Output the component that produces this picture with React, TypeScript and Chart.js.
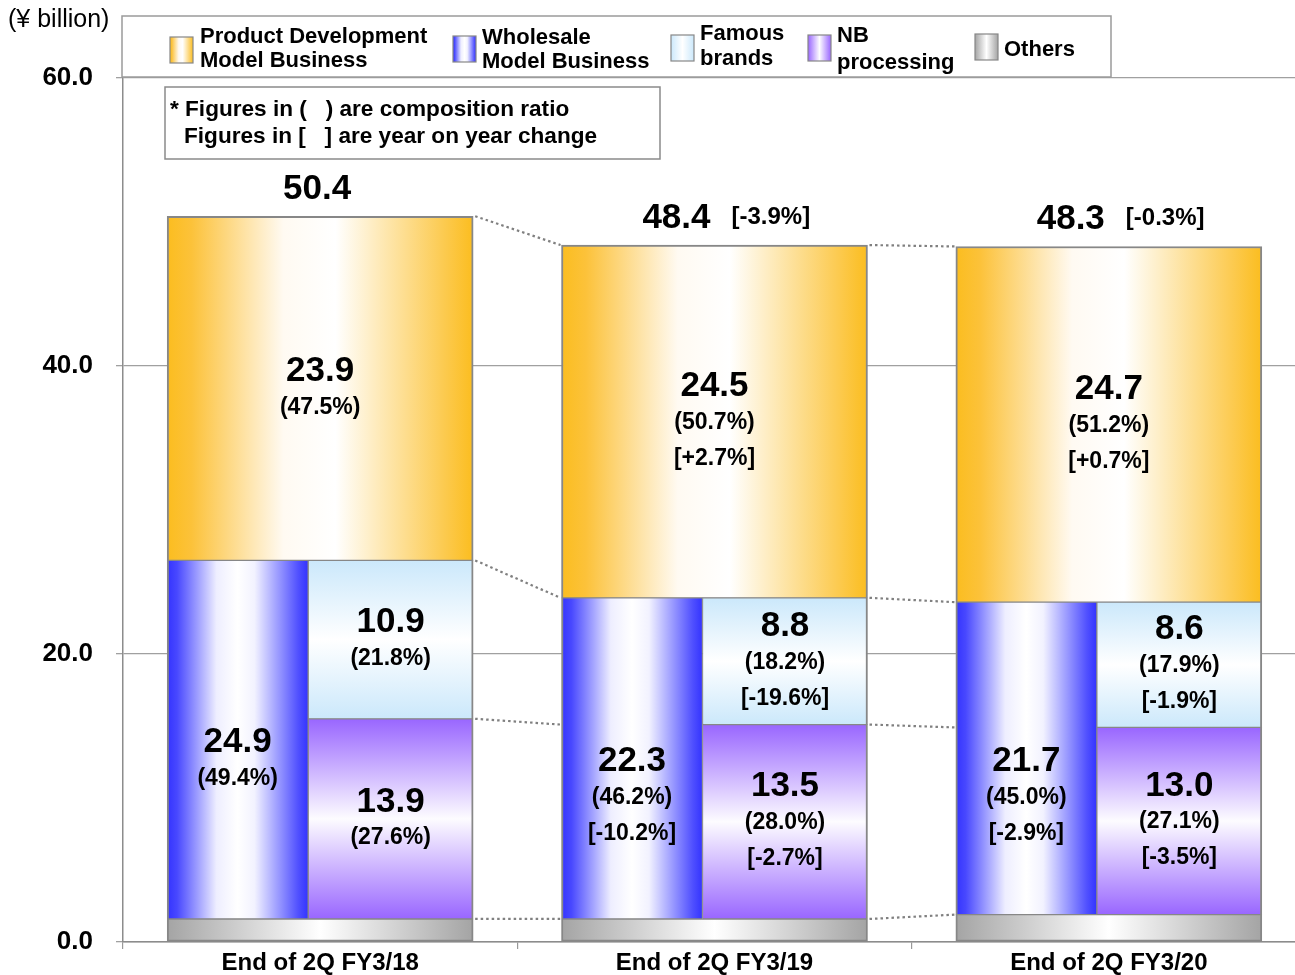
import React, { useEffect, useRef } from 'react';
import { Chart, registerables } from 'chart.js';

Chart.register(...registerables);

// ---------------- data ----------------
const categories = ['End of 2Q FY3/18', 'End of 2Q FY3/19', 'End of 2Q FY3/20'];
const yTicks = [0, 20, 40, 60];
const yTitle = '(¥ billion)';

const productDev = [23.9, 24.5, 24.7];
const productDevRatio = ['(47.5%)', '(50.7%)', '(51.2%)'];
const productDevChange = ['', '[+2.7%]', '[+0.7%]'];

const wholesale = [24.9, 22.3, 21.7];
const wholesaleRatio = ['(49.4%)', '(46.2%)', '(45.0%)'];
const wholesaleChange = ['', '[-10.2%]', '[-2.9%]'];

const famousBrands = [10.9, 8.8, 8.6];
const famousRatio = ['(21.8%)', '(18.2%)', '(17.9%)'];
const famousChange = ['', '[-19.6%]', '[-1.9%]'];

const nbProcessing = [13.9, 13.5, 13.0];
const nbRatio = ['(27.6%)', '(28.0%)', '(27.1%)'];
const nbChange = ['', '[-2.7%]', '[-3.5%]'];

const others = [1.6, 1.6, 1.9];

const totals = [50.4, 48.4, 48.3];
const totalChange = ['', '[-3.9%]', '[-0.3%]'];

const legendNames = [
  ['Product Development', 'Model Business'],
  ['Wholesale', 'Model Business'],
  ['Famous', 'brands'],
  ['NB', 'processing'],
  ['Others'],
];
const noteLines = ['* Figures in (   ) are composition ratio', 'Figures in [   ] are year on year change'];

// ---------------- layout / style ----------------
const FONT = "'Liberation Sans', Arial, Helvetica, sans-serif";
const CANVAS_W = 1310;
const CANVAS_H = 975;
const Y_W = 123;
const X_H = 33;
const PAD_TOP = 78;
const PAD_RIGHT = 4;
const CAT_W = (CANVAS_W - PAD_RIGHT - Y_W) / categories.length;
const BAR_W = 306;
const LEFT_W = 141;
const RIGHT_W = 165;
const LEFT_OFF = (-BAR_W / 2 + LEFT_W / 2) / CAT_W;
const RIGHT_OFF = (BAR_W / 2 - RIGHT_W / 2) / CAT_W;
const BORDER = '#878787';

type Stops = [number, string][];
const PD_STOPS: Stops = [[0, '#fbbd1f'], [0.08, '#fcc23a'], [0.38, '#fffaf2'], [0.55, '#ffffff'], [0.9, '#fccb52'], [1, '#fbbd1f']];
const WH_STOPS: Stops = [[0, '#3333ff'], [0.07, '#4848ff'], [0.35, '#eeeeff'], [0.5, '#ffffff'], [0.62, '#f2f2ff'], [0.93, '#5050ff'], [1, '#3333ff']];
const FB_STOPS: Stops = [[0, '#cbe8fb'], [0.5, '#ffffff'], [1, '#cbe8fb']];
const NB_STOPS: Stops = [[0, '#9966ff'], [0.5, '#fdfcff'], [1, '#9966ff']];
const OT_STOPS: Stops = [[0, '#a4a4a4'], [0.5, '#ffffff'], [1, '#a4a4a4']];

function grad(ctx: CanvasRenderingContext2D, x0: number, y0: number, x1: number, y1: number, stops: Stops) {
  const g = ctx.createLinearGradient(x0, y0, x1, y1);
  stops.forEach(([o, c]) => g.addColorStop(o, c));
  return g;
}

function barFill(dir: 'h' | 'v', thickness: number, stops: Stops) {
  return (c: any) => {
    const fallback = stops[0][1];
    if (c.type !== 'data' || !c.raw) return fallback;
    const chart = c.chart;
    const xs = chart.scales.xs;
    const ys = chart.scales.y;
    if (!xs || !ys || !chart.chartArea) return fallback;
    if (dir === 'h') {
      const cx = xs.getPixelForValue(c.raw.x);
      return grad(chart.ctx, cx - thickness / 2, 0, cx + thickness / 2, 0, stops);
    }
    const yTop = ys.getPixelForValue(c.raw.y[1]);
    const yBot = ys.getPixelForValue(c.raw.y[0]);
    return grad(chart.ctx, 0, yTop, 0, yBot, stops);
  };
}

const font = (size: number, bold = true) => `${bold ? 'bold ' : ''}${size}px ${FONT}`;

export default function App() {
  const ref = useRef<HTMLCanvasElement>(null);

  useEffect(() => {
    const canvas = ref.current;
    if (!canvas) return;

    const idx = categories.map((_, i) => i);
    const pdBase = idx.map(i => others[i] + wholesale[i]);
    const pdTop = idx.map(i => pdBase[i] + productDev[i]);
    const nbTop = idx.map(i => others[i] + nbProcessing[i]);

    const datasets: any[] = [
      {
        label: 'Others',
        data: idx.map(i => ({ x: i, y: [0, others[i]] })),
        barThickness: BAR_W,
        backgroundColor: barFill('h', BAR_W, OT_STOPS),
        borderWidth: { top: 1, left: 2, right: 2, bottom: 2 },
      },
      {
        label: 'Wholesale Model Business',
        data: idx.map(i => ({ x: i + LEFT_OFF, y: [others[i], pdBase[i]] })),
        barThickness: LEFT_W,
        backgroundColor: barFill('h', LEFT_W, WH_STOPS),
        borderWidth: { top: 1, left: 2, right: 1, bottom: 1 },
      },
      {
        label: 'NB processing',
        data: idx.map(i => ({ x: i + RIGHT_OFF, y: [others[i], nbTop[i]] })),
        barThickness: RIGHT_W,
        backgroundColor: barFill('v', RIGHT_W, NB_STOPS),
        borderWidth: { top: 1, left: 1, right: 2, bottom: 1 },
      },
      {
        label: 'Famous brands',
        data: idx.map(i => ({ x: i + RIGHT_OFF, y: [nbTop[i], pdBase[i]] })),
        barThickness: RIGHT_W,
        backgroundColor: barFill('v', RIGHT_W, FB_STOPS),
        borderWidth: { top: 1, left: 1, right: 2, bottom: 1 },
      },
      {
        label: 'Product Development Model Business',
        data: idx.map(i => ({ x: i, y: [pdBase[i], pdTop[i]] })),
        barThickness: BAR_W,
        backgroundColor: barFill('h', BAR_W, PD_STOPS),
        borderWidth: { top: 2, left: 2, right: 2, bottom: 1 },
      },
    ].map(d => ({
      ...d,
      type: 'bar',
      xAxisID: 'xs',
      yAxisID: 'y',
      grouped: false,
      borderColor: BORDER,
      borderSkipped: false,
    }));

    const labelSpecs = [
      { ds: 4, values: productDev, ratio: productDevRatio, change: productDevChange, anchor: 'center' },
      { ds: 1, values: wholesale, ratio: wholesaleRatio, change: wholesaleChange, anchor: 'top' },
      { ds: 3, values: famousBrands, ratio: famousRatio, change: famousChange, anchor: 'center' },
      { ds: 2, values: nbProcessing, ratio: nbRatio, change: nbChange, anchor: 'center' },
    ];

    const connectorPlugin = {
      id: 'connectors',
      afterDatasetsDraw(chart: any) {
        const ctx = chart.ctx as CanvasRenderingContext2D;
        const y = chart.scales.y;
        const pdMeta = chart.getDatasetMeta(4);
        const levels = [pdTop, pdBase, nbTop, others];
        ctx.save();
        ctx.strokeStyle = '#808080';
        ctx.lineWidth = 2.2;
        ctx.setLineDash([2.5, 3]);
        for (let i = 0; i < categories.length - 1; i++) {
          const a = pdMeta.data[i];
          const b = pdMeta.data[i + 1];
          const x0 = a.x + a.width / 2;
          const x1 = b.x - b.width / 2;
          levels.forEach(l => {
            ctx.beginPath();
            ctx.moveTo(x0 + 2, y.getPixelForValue(l[i]));
            ctx.lineTo(x1 - 1, y.getPixelForValue(l[i + 1]));
            ctx.stroke();
          });
        }
        ctx.restore();
      },
    };

    const labelPlugin = {
      id: 'segLabels',
      afterDatasetsDraw(chart: any) {
        const ctx = chart.ctx as CanvasRenderingContext2D;
        ctx.save();
        ctx.fillStyle = '#000';
        ctx.textAlign = 'center';
        ctx.textBaseline = 'middle';
        const GAP = 36;
        labelSpecs.forEach(spec => {
          const meta = chart.getDatasetMeta(spec.ds);
          meta.data.forEach((el: any, i: number) => {
            const center = (el.y + el.base) / 2;
            const lines: [string, string][] = [[spec.values[i].toFixed(1), font(35)]];
            if (spec.ratio[i]) lines.push([spec.ratio[i], font(23)]);
            if (spec.change[i]) lines.push([spec.change[i], font(23)]);
            const start = spec.anchor === 'center' ? center - ((lines.length - 1) * GAP) / 2 + 1 : center + 3;
            lines.forEach(([t, f], k) => {
              ctx.font = f;
              ctx.fillText(t, el.x, start + k * GAP);
            });
          });
        });
        // totals above bars
        const pdMeta = chart.getDatasetMeta(4);
        pdMeta.data.forEach((el: any, i: number) => {
          const ty = el.y - 27;
          if (totalChange[i]) {
            ctx.font = font(35);
            ctx.textAlign = 'right';
            ctx.fillText(totals[i].toFixed(1), el.x - 4, ty);
            ctx.font = font(24);
            ctx.textAlign = 'left';
            ctx.fillText(totalChange[i], el.x + 17, ty - 1);
          } else {
            ctx.font = font(35);
            ctx.textAlign = 'center';
            ctx.fillText(totals[i].toFixed(1), el.x - 3, ty);
          }
        });
        ctx.restore();
      },
    };

    const decorPlugin = {
      id: 'decor',
      afterDraw(chart: any) {
        const ctx = chart.ctx as CanvasRenderingContext2D;
        ctx.save();
        // y-axis unit
        ctx.fillStyle = '#000';
        ctx.font = font(25, false);
        ctx.textAlign = 'left';
        ctx.textBaseline = 'middle';
        ctx.fillText(yTitle, 8, 20);

        // legend box
        ctx.fillStyle = '#fff';
        ctx.fillRect(122, 16, 989, 61);
        ctx.strokeStyle = '#9a9a9a';
        ctx.lineWidth = 1.5;
        ctx.strokeRect(122, 16, 989, 61);
        const swatchX = [170, 453, 671, 808, 975];
        const swatchY = [37, 36, 35, 35, 34];
        const textX = [200, 482, 700, 837, 1004];
        const textY = [[37, 61], [38, 62], [34, 59], [36, 63], [50]];
        const stopsList = [PD_STOPS, WH_STOPS, FB_STOPS, NB_STOPS, OT_STOPS];
        legendNames.forEach((names, k) => {
          const sx = swatchX[k];
          const sy = swatchY[k];
          ctx.fillStyle = grad(ctx, sx, 0, sx + 23, 0, stopsList[k]);
          ctx.fillRect(sx, sy, 23, 26);
          ctx.strokeStyle = BORDER;
          ctx.lineWidth = 1.2;
          ctx.strokeRect(sx, sy, 23, 26);
          ctx.fillStyle = '#000';
          ctx.font = font(22);
          ctx.textAlign = 'left';
          names.forEach((n, j) => ctx.fillText(n, textX[k], textY[k][j]));
        });

        // note box
        ctx.fillStyle = '#fff';
        ctx.fillRect(165, 87, 495, 72);
        ctx.strokeStyle = '#8a8a8a';
        ctx.lineWidth = 1.5;
        ctx.strokeRect(165, 87, 495, 72);
        ctx.fillStyle = '#000';
        ctx.font = font(22.6);
        ctx.fillText(noteLines[0], 170, 110);
        ctx.fillText(noteLines[1], 184, 137);
        ctx.restore();
      },
    };

    const chart = new Chart(canvas, {
      type: 'bar',
      data: { labels: categories, datasets },
      options: {
        responsive: false,
        animation: false,
        events: [],
        layout: { padding: { top: PAD_TOP, right: PAD_RIGHT, left: 0, bottom: 0 } },
        plugins: { legend: { display: false }, tooltip: { enabled: false }, title: { display: false } },
        scales: {
          x: {
            type: 'category',
            labels: categories,
            position: 'bottom',
            offset: true,
            grid: { offset: true, drawOnChartArea: false, tickLength: 7, color: '#999', lineWidth: 1.2 },
            border: { display: true, color: '#8c8c8c', width: 1.5 },
            ticks: { font: { family: FONT, size: 24, weight: 'bold' }, color: '#000', padding: 0, maxRotation: 0, autoSkip: false },
            afterFit: (s: any) => { s.height = X_H; },
          },
          xs: {
            type: 'linear',
            position: 'bottom',
            min: -0.5,
            max: categories.length - 0.5,
            offset: false,
            display: false,
          },
          y: {
            type: 'linear',
            min: 0,
            max: 60,
            afterBuildTicks: (s: any) => { s.ticks = yTicks.map(v => ({ value: v })); },
            afterFit: (s: any) => {
              s.width = Y_W;
              s.paddingTop = 0;
              s.paddingBottom = 0;
            },
            ticks: {
              callback: (v: any) => Number(v).toFixed(1),
              font: { family: FONT, size: 26, weight: 'bold' },
              color: '#000',
              padding: 23,
            },
            grid: { color: '#a0a0a0', lineWidth: 1.3, tickLength: 7 },
            border: { display: true, color: '#8c8c8c', width: 1.5 },
          },
        },
      } as any,
      plugins: [connectorPlugin, labelPlugin, decorPlugin],
    } as any);

    return () => chart.destroy();
  }, []);

  return (
    <div style={{ position: 'fixed', left: 0, top: 0, width: 1295, height: CANVAS_H, overflow: 'hidden', background: '#fff' }}>
      <canvas ref={ref} width={CANVAS_W} height={CANVAS_H} style={{ display: 'block' }} />
    </div>
  );
}
